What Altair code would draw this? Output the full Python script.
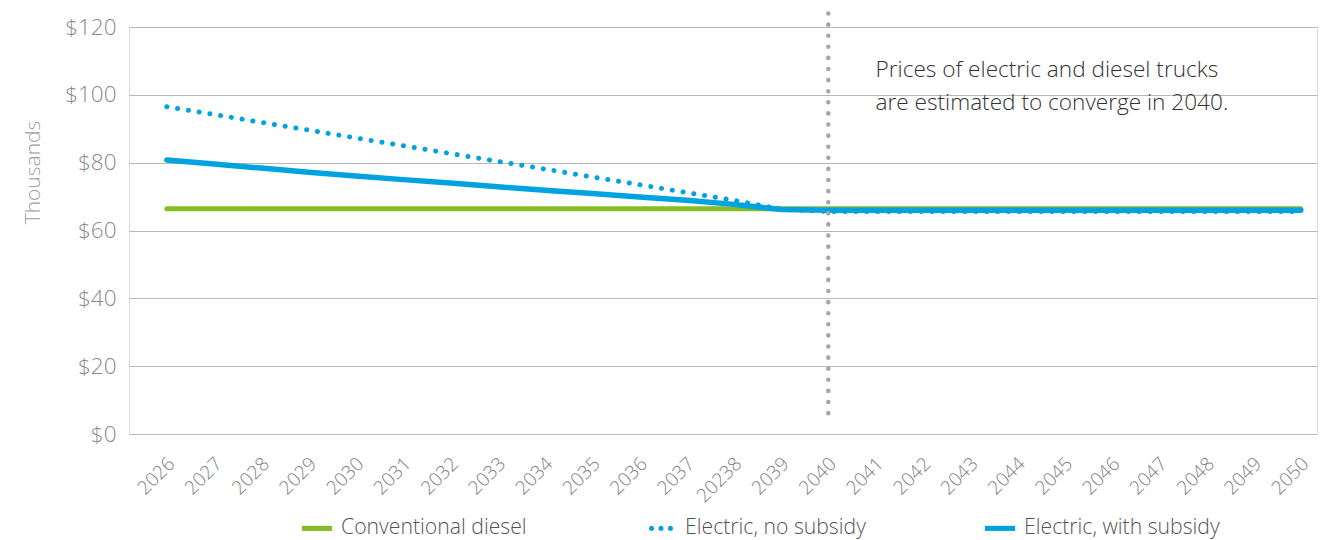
import altair as alt
import pandas as pd

years = ["2026", "2027", "2028", "2029", "2030", "2031", "2032", "2033", "2034",
         "2035", "2036", "2037", "20238", "2039", "2040", "2041", "2042", "2043",
         "2044", "2045", "2046", "2047", "2048", "2049", "2050"]

series_names = ["Conventional diesel", "Electric, no subsidy", "Electric, with subsidy"]

conventional_diesel = [66.4, 66.4, 66.4, 66.4, 66.4, 66.4, 66.4, 66.4, 66.4, 66.4, 66.4, 66.4, 66.4,
                       66.4, 66.4, 66.4, 66.4, 66.4, 66.4, 66.4, 66.4, 66.4, 66.4, 66.4, 66.4]
electric_no_subsidy = [96.5, 94.2, 91.9, 89.6, 87.3, 85.0, 82.7, 80.4, 78.1, 75.8, 73.5, 71.2, 68.9,
                       66.3, 65.6, 65.6, 65.6, 65.6, 65.6, 65.6, 65.6, 65.6, 65.6, 65.6, 65.6]
electric_with_subsidy = [80.8, 79.6, 78.4, 77.2, 76.1, 75.0, 74.0, 72.9, 71.9, 70.9, 69.9, 68.9, 67.7,
                         66.2, 66.0, 66.0, 66.0, 66.0, 66.0, 66.0, 66.0, 66.0, 66.0, 66.0, 66.0]

y_ticks = [0, 20, 40, 60, 80, 100, 120]

marker_year = "2040"
marker_top = 124
marker_bottom = 5.5

note_year = "2041"
note_lines = ["Prices of electric and diesel trucks", "are estimated to converge in 2040."]
note_values = [107.4, 97.6]

colors = ["#86BC25", "#00A3E0", "#00A3E0"]

rows = []
for name, vals in zip(series_names, [conventional_diesel, electric_no_subsidy, electric_with_subsidy]):
    for yr, v in zip(years, vals):
        rows.append({"year": yr, "series": name, "value": v})
df = pd.DataFrame(rows)

rule_df = pd.DataFrame({"year": [marker_year], "top": [marker_top], "bottom": [marker_bottom]})
note_df = pd.DataFrame({"year": [note_year] * 2, "value": note_values, "text": note_lines})
legend_df = pd.DataFrame({"year": [years[0]] * 3, "value": conventional_diesel[:3], "series": series_names})

FONT = "Open Sans"

x_scale = alt.Scale(type="point", padding=0.5714, align=0.70)
x_enc = alt.X("year:O", sort=years, scale=x_scale,
              axis=alt.Axis(title=None, labelAngle=-45, labelFontSize=19, labelColor="#808080",
                            labelFontWeight=300, labelOffset=-2,
                            labelPadding=20, domain=False, ticks=False, grid=False, labelFont=FONT))
y_scale = alt.Scale(domain=[0, 120], nice=False, zero=True)
y_enc = alt.Y("value:Q", scale=y_scale,
              axis=alt.Axis(title="Thousands", values=y_ticks, labelExpr="'$' + datum.value",
                            labelFontSize=22.5, labelColor="#8a8a8a", labelPadding=13,
                            labelFontWeight=300,
                            titleFontSize=21, titleColor="#a0a0a0", titleFontWeight=300,
                            titlePadding=21, titleY=145, domain=False, ticks=False, grid=True,
                            gridColor="#b8b8b8", gridWidth=1, labelFont=FONT, titleFont=FONT))

base = alt.Chart(df)

diesel = base.transform_filter(alt.datum.series == series_names[0]).mark_line(
    strokeWidth=5, strokeCap="round", color=colors[0]).encode(x=x_enc, y=y_enc)
nosub = base.transform_filter(alt.datum.series == series_names[1]).mark_line(
    strokeWidth=5, strokeCap="round", strokeDash=[0.1, 10.8], color=colors[1]).encode(x=x_enc, y=y_enc)
withsub = base.transform_filter(alt.datum.series == series_names[2]).mark_line(
    strokeWidth=5.5, strokeCap="round", color=colors[2]).encode(x=x_enc, y=y_enc)

rule = alt.Chart(rule_df).mark_rule(
    strokeWidth=4.5, strokeCap="round", strokeDash=[0.1, 11], color="#a6a6a6").encode(
    x=alt.X("year:O", sort=years, scale=x_scale), y=alt.Y("top:Q", scale=y_scale), y2="bottom:Q")

note = alt.Chart(note_df).mark_text(
    align="left", baseline="middle", fontSize=22.6, fontWeight=300, color="#333333", font=FONT).encode(
    x=alt.X("year:O", sort=years, scale=x_scale), y=alt.Y("value:Q", scale=y_scale), text="text:N")

bar_path = "M-1,-0.17 L1,-0.17 L1,0.17 L-1,0.17 Z"
dots_path = ("M-0.8,0 A0.17,0.17 0 1 0 -0.46,0 A0.17,0.17 0 1 0 -0.8,0 Z "
             "M-0.17,0 A0.17,0.17 0 1 0 0.17,0 A0.17,0.17 0 1 0 -0.17,0 Z "
             "M0.46,0 A0.17,0.17 0 1 0 0.8,0 A0.17,0.17 0 1 0 0.46,0 Z")

legend_label_expr = ("datum.label == 'Electric, no subsidy' ? "
                     "datum.label + '\u00a0\u00a0' : datum.label")

legend_cfg = dict(title=None, orient="none", legendX=173, legendY=486,
                  direction="horizontal", columns=3, columnPadding=119,
                  symbolSize=900, symbolOpacity=1, symbolStrokeWidth=0,
                  labelFontSize=21.2, labelColor="#555555", labelFont=FONT, labelFontWeight=300,
                  labelOffset=9, labelLimit=400, labelExpr=legend_label_expr)

legend_layer = alt.Chart(legend_df).mark_point(filled=True, opacity=0, size=900).encode(
    x=alt.X("year:O", sort=years, scale=x_scale),
    y=alt.Y("value:Q", scale=y_scale),
    color=alt.Color("series:N", scale=alt.Scale(domain=series_names, range=colors),
                    legend=alt.Legend(**legend_cfg)),
    shape=alt.Shape("series:N", scale=alt.Scale(domain=series_names,
                                                range=[bar_path, dots_path, bar_path]),
                    legend=alt.Legend(**legend_cfg)),
)

chart = alt.layer(diesel, nosub, withsub, rule, note, legend_layer).properties(
    width=1188, height=407,
    padding={"top": 3, "left": 14, "right": 5, "bottom": 0},
).configure_view(stroke=None).configure(font=FONT)

chart.save("out.html", embed_options={"renderer": "svg", "actions": False})
